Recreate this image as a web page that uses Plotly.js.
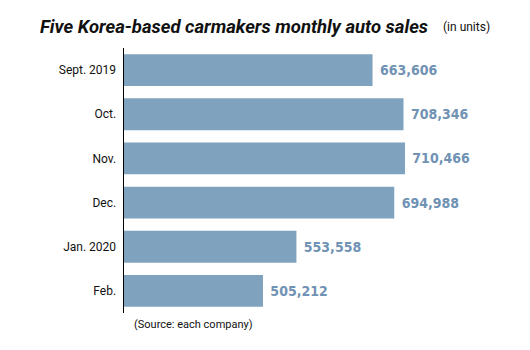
<!DOCTYPE html>
<html>
<head>
<meta charset="utf-8">
<script src="https://cdn.plot.ly/plotly-3.0.1.min.js"></script>
<style>html,body{margin:0;padding:0;background:#fff;}#chart{width:530px;height:350px;}</style>
</head>
<body>
<div id="chart"></div>
<script>
var categories = ["Sept. 2019", "Oct.", "Nov.", "Dec.", "Jan. 2020", "Feb."];
var sales = [663606, 708346, 710466, 694988, 553558, 505212];

var trace = {
  type: "bar",
  orientation: "h",
  y: categories,
  x: sales,
  width: 0.72,
  marker: {color: "#7fa2be"},
  texttemplate: " %{x:,}",
  textposition: "outside",
  cliponaxis: false,
  textfont: {family: "DejaVu Sans Condensed", size: 14, color: "#7092b4", weight: "bold"},
  hoverinfo: "skip"
};

var layout = {
  width: 530, height: 350,
  margin: {l: 124, r: 20, t: 48, b: 37},
  paper_bgcolor: "#ffffff", plot_bgcolor: "#ffffff",
  showlegend: false,
  title: {
    text: "<b><i>Five Korea-based carmakers monthly auto sales</i></b>",
    font: {family: "Roboto", size: 18.5, color: "#111111"},
    x: 40/530, xanchor: "left", xref: "container",
    y: 1 - 27/350, yanchor: "middle", yref: "container"
  },
  xaxis: {
    range: [304300, 862300],
    showgrid: false, zeroline: false, showticklabels: false, ticks: "", showline: false
  },
  yaxis: {
    autorange: "reversed",
    showgrid: false, zeroline: false, ticks: "",
    showline: true, linecolor: "#000000", linewidth: 1.5,
    tickfont: {family: "Roboto", size: 12, color: "#111111"},
    ticklabelstandoff: 4
  },
  annotations: [
    {text: "(in units)", xref: "paper", yref: "paper",
     x: (441-124)/386, xanchor: "left", y: 1 + (48-27)/265, yanchor: "middle",
     showarrow: false, font: {family: "Roboto", size: 12, color: "#111111"}},
    {text: "(Source: each company)", xref: "paper", yref: "paper",
     x: (132-124)/386, xanchor: "left", y: (313-324)/265, yanchor: "middle",
     showarrow: false, font: {family: "Roboto", size: 11, color: "#111111"}}
  ]
};

Plotly.newPlot("chart", [trace], layout, {displayModeBar: false, staticPlot: true});
</script>
</body>
</html>
